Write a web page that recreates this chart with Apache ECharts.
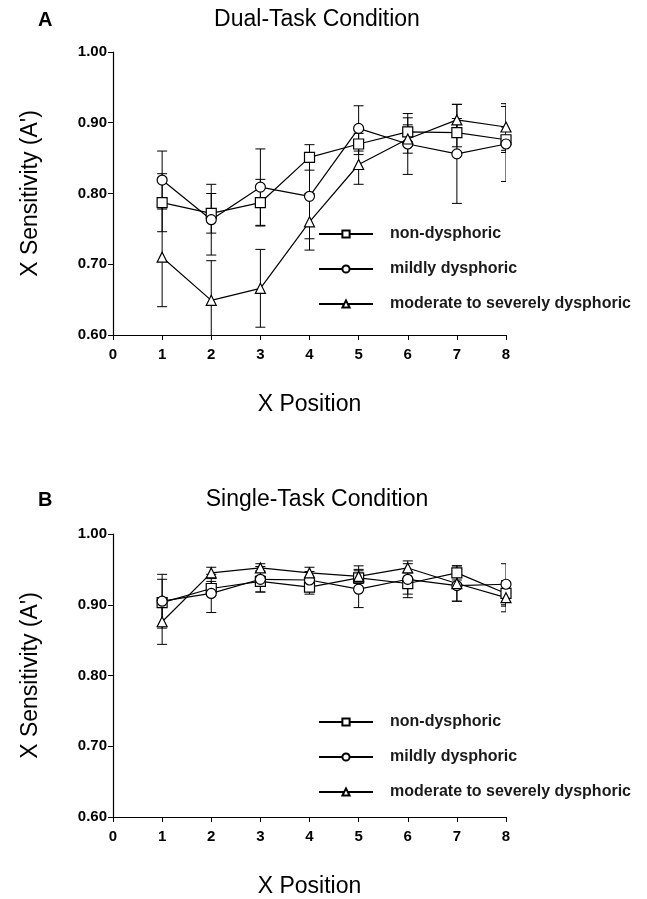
<!DOCTYPE html>
<html>
<head>
<meta charset="utf-8">
<script src="https://cdn.jsdelivr.net/npm/echarts@6/dist/echarts.min.js"></script>
<style>
  html, body { margin: 0; padding: 0; background: #fff; }
  #chart { width: 647px; height: 899px; }
</style>
</head>
<body>
<div id="chart"></div>
<script>
// x positions 1..8
var positions = [1, 2, 3, 4, 5, 6, 7, 8];
var groupNames = ['non-dysphoric', 'mildly dysphoric', 'moderate to severely dysphoric'];
var yTicks = [0.6, 0.7, 0.8, 0.9, 1.0];

// Dual-task condition (panel A)
var dualNon = [0.787, 0.772, 0.787, 0.851, 0.870, 0.887, 0.886, 0.876];
var dualMild = [0.819, 0.763, 0.809, 0.796, 0.892, 0.870, 0.856, 0.870];
var dualMod = [0.710, 0.649, 0.666, 0.760, 0.841, 0.877, 0.904, 0.894];
var dualNonErr = [0.041, 0.028, 0.033, 0.018, 0.015, 0.020, 0.020, 0.018];
var dualMildErr = [0.041, 0.050, 0.054, 0.060, 0.032, 0.043, 0.070, 0.053];
var dualModErr = [0.070, 0.056, 0.055, 0.040, 0.028, 0.020, 0.022, 0.033];

// Single-task condition (panel B)
var singleNon = [0.903, 0.923, 0.933, 0.925, 0.938, 0.930, 0.945, 0.916];
var singleMild = [0.905, 0.916, 0.936, 0.935, 0.922, 0.936, 0.927, 0.929];
var singleMod = [0.876, 0.945, 0.952, 0.945, 0.940, 0.952, 0.930, 0.910];
var singleNonErr = [0.033, 0.010, 0.015, 0.010, 0.017, 0.015, 0.010, 0.018];
var singleMildErr = [0.038, 0.027, 0.018, 0.012, 0.026, 0.026, 0.022, 0.029];
var singleModErr = [0.032, 0.008, 0.006, 0.008, 0.010, 0.006, 0.025, 0.020];

var symbols = ['rect', 'circle', 'triangle'];
var font = 'Liberation Sans, Arial, sans-serif';

var myChart = echarts.init(document.getElementById('chart'));

function errorBars(params, api) {
  var x = api.value(0);
  var top = api.coord([x, api.value(2)]);
  var bot = api.coord([x, api.value(1)]);
  var w = 5;
  var st = { stroke: '#000', lineWidth: 1 };
  return {
    type: 'group',
    children: [
      { type: 'line', shape: { x1: top[0], y1: top[1], x2: bot[0], y2: bot[1] }, style: st },
      { type: 'line', shape: { x1: top[0] - w, y1: top[1], x2: top[0] + w, y2: top[1] }, style: st },
      { type: 'line', shape: { x1: bot[0] - w, y1: bot[1], x2: bot[0] + w, y2: bot[1] }, style: st }
    ]
  };
}

function makeSeries(panel, means, errs) {
  var out = [];
  means.forEach(function (m, k) {
    out.push({
      type: 'custom',
      xAxisIndex: panel,
      yAxisIndex: panel,
      renderItem: errorBars,
      clip: true,
      silent: true,
      z: 1,
      data: positions.map(function (p, i) { return [p, m[i] - errs[k][i], m[i] + errs[k][i]]; })
    });
  });
  means.forEach(function (m, k) {
    out.push({
      name: groupNames[k],
      type: 'line',
      xAxisIndex: panel,
      yAxisIndex: panel,
      symbol: symbols[k],
      symbolSize: 10,
      showAllSymbol: true,
      z: 3,
      lineStyle: { color: '#000', width: 1.2 },
      itemStyle: { color: '#fff', borderColor: '#000', borderWidth: 1.2 },
      data: positions.map(function (p, i) { return [p, m[i]]; })
    });
  });
  return out;
}

function xAxisCfg(grid) {
  return {
    type: 'value', gridIndex: grid, min: 0, max: 8, interval: 1,
    name: 'X Position', nameLocation: 'middle', nameGap: 58,
    nameTextStyle: { fontFamily: font, fontSize: 23, color: '#000' },
    axisLine: { lineStyle: { color: '#000', width: 1.2 } },
    axisTick: { lineStyle: { color: '#000' }, length: 5 },
    axisLabel: { fontFamily: font, fontSize: 15, fontWeight: 'bold', color: '#000', margin: 12 },
    splitLine: { show: false }
  };
}

function yAxisCfg(grid) {
  return {
    type: 'value', gridIndex: grid, min: yTicks[0], max: yTicks[yTicks.length - 1], interval: 0.1,
    name: "X Sensitivity (A')", nameLocation: 'middle', nameGap: 71,
    nameTextStyle: { fontFamily: font, fontSize: 23, color: '#000' },
    axisLine: { show: true, lineStyle: { color: '#000', width: 1.2 } },
    axisTick: { show: true, lineStyle: { color: '#000' }, length: 5 },
    axisLabel: {
      fontFamily: font, fontSize: 15, fontWeight: 'bold', color: '#000', margin: 6,
      formatter: function (v) { return v.toFixed(2); }
    },
    splitLine: { show: false }
  };
}

function legendCfg(top) {
  return {
    orient: 'vertical', left: 313, top: top,
    itemWidth: 54, itemHeight: 9, itemGap: 19,
    data: groupNames,
    selectedMode: false,
    textStyle: { fontFamily: font, fontSize: 16, lineHeight: 16, fontWeight: 'bold', color: '#1a1a1a', padding: [0, 0, 0, 12] }
  };
}

var option = {
  animation: false,
  backgroundColor: '#fff',
  title: [
    { text: 'Dual-Task Condition', left: 312, top: 3, textAlign: 'center',
      textStyle: { fontFamily: font, fontSize: 23, fontWeight: 'normal', color: '#000' } },
    { text: 'Single-Task Condition', left: 312, top: 483, textAlign: 'center',
      textStyle: { fontFamily: font, fontSize: 23, fontWeight: 'normal', color: '#000' } },
    { text: 'A', left: 33, top: 5, textStyle: { fontFamily: font, fontSize: 20, fontWeight: 'bold', color: '#000' } },
    { text: 'B', left: 33, top: 485, textStyle: { fontFamily: font, fontSize: 20, fontWeight: 'bold', color: '#000' } }
  ],
  legend: [legendCfg(221), legendCfg(709)],
  grid: [
    { left: 113, top: 52, width: 393, height: 283 },
    { left: 113, top: 534, width: 393, height: 286 }
  ],
  xAxis: [xAxisCfg(0), xAxisCfg(1)],
  yAxis: [yAxisCfg(0), yAxisCfg(1)],
  series: makeSeries(0, [dualNon, dualMild, dualMod], [dualNonErr, dualMildErr, dualModErr])
    .concat(makeSeries(1, [singleNon, singleMild, singleMod], [singleNonErr, singleMildErr, singleModErr]))
};

myChart.setOption(option);
</script>
</body>
</html>
